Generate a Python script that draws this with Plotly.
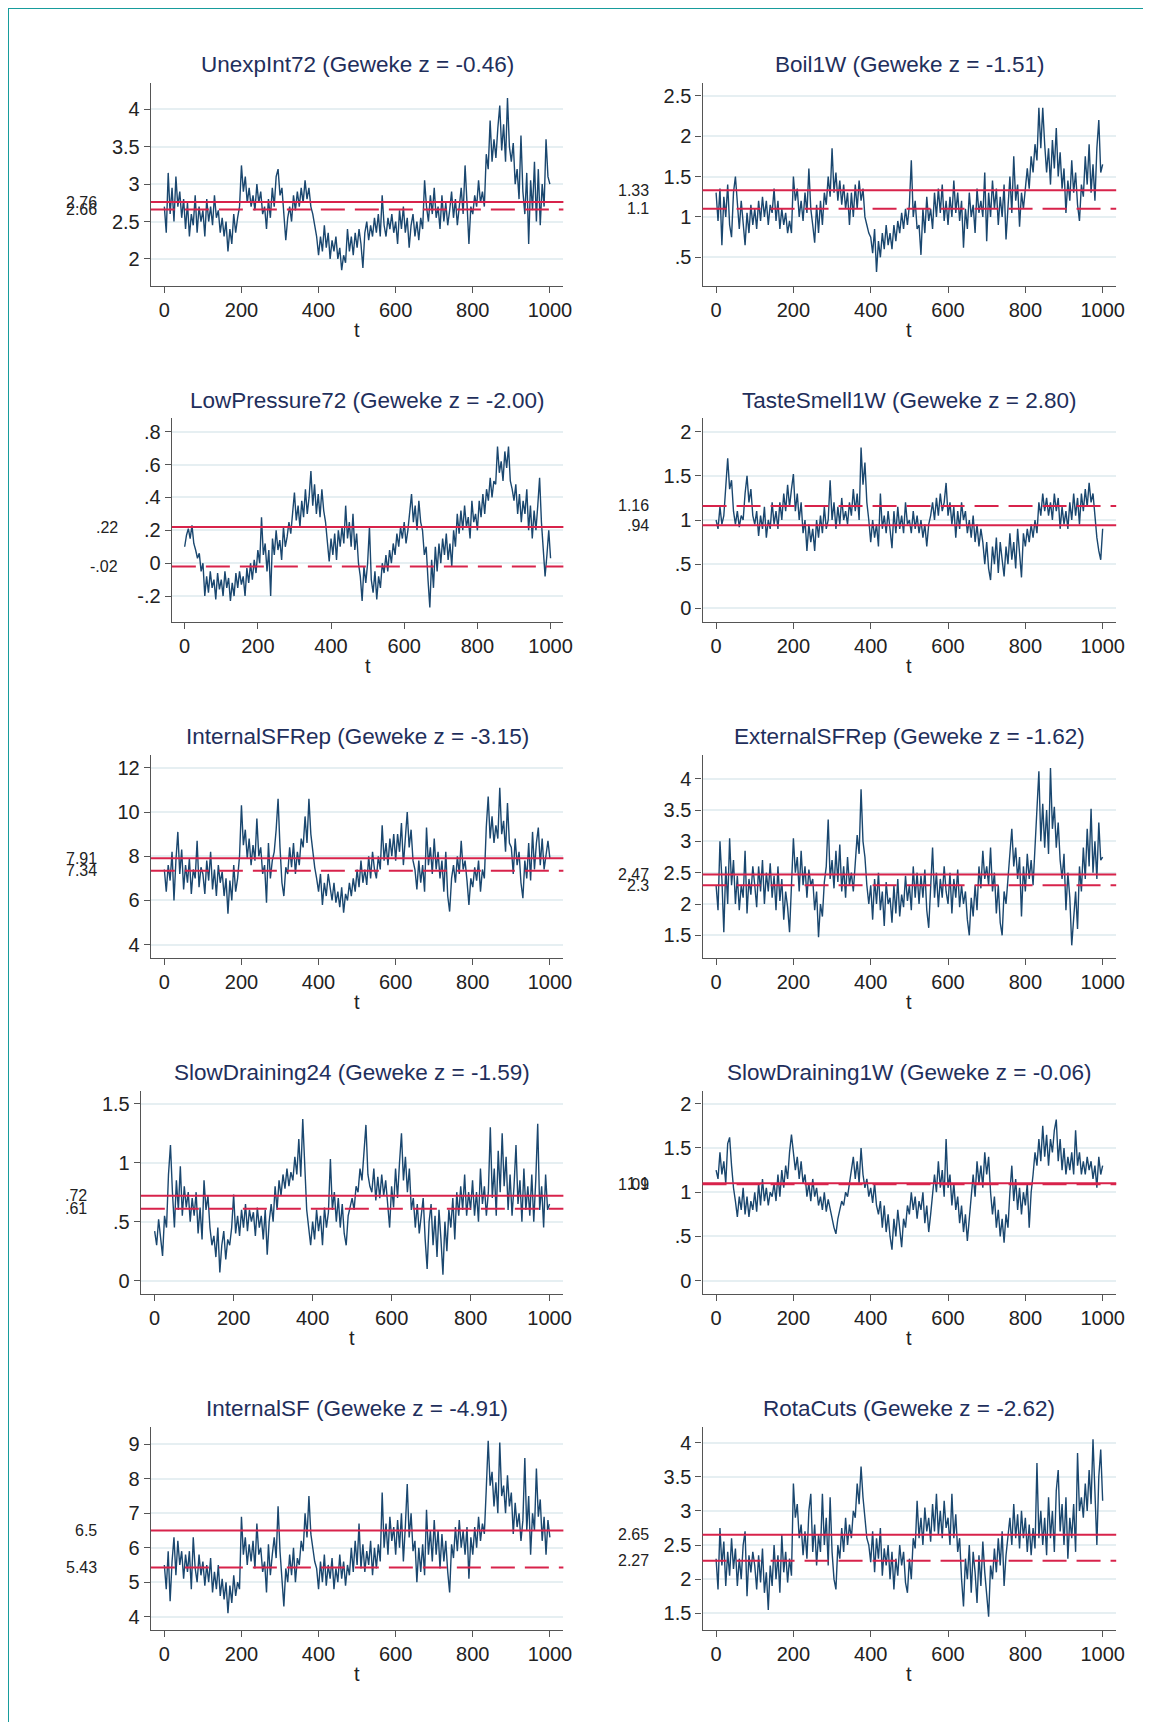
import plotly.graph_objects as go

# ---------------- data ----------------
iteration = list(range(0, 1001, 5))

names = ["UnexpInt72", "Boil1W", "LowPressure72", "TasteSmell1W", "InternalSFRep",
         "ExternalSFRep", "SlowDraining24", "SlowDraining1W", "InternalSF", "RotaCuts"]
geweke_z = ["-0.46", "-1.51", "-2.00", "2.80", "-3.15", "-1.62", "-1.59", "-0.06", "-4.91", "-2.62"]

solid_mean = [2.76, 1.33, 0.22, 0.94, 7.91, 2.47, 0.72, 1.10, 6.5, 2.65]
solid_label = ["2.76", "1.33", ".22", ".94", "7.91", "2.47", ".72", "1.1", "6.5", "2.65"]
dashed_mean = [2.66, 1.10, -0.02, 1.16, 7.34, 2.30, 0.61, 1.09, 5.43, 2.27]
dashed_label = ["2.66", "1.1", "-.02", "1.16", "7.34", "2.3", ".61", "1.09", "5.43", "2.27"]

y_ticks = [
    [2, 2.5, 3, 3.5, 4],
    [0.5, 1, 1.5, 2, 2.5],
    [-0.2, 0, 0.2, 0.4, 0.6, 0.8],
    [0, 0.5, 1, 1.5, 2],
    [4, 6, 8, 10, 12],
    [1.5, 2, 2.5, 3, 3.5, 4],
    [0, 0.5, 1, 1.5],
    [0, 0.5, 1, 1.5, 2],
    [4, 5, 6, 7, 8, 9],
    [1.5, 2, 2.5, 3, 3.5, 4],
]
x_ticks = [0, 200, 400, 600, 800, 1000]

unexpint72 = [
    2.7, 2.35, 3.15, 2.6, 2.95, 2.5, 3.1, 2.7, 2.9, 2.55,
    2.8, 2.4, 2.75, 2.3, 2.6, 2.45, 2.85, 2.35, 2.7, 2.5,
    2.65, 2.3, 2.8, 2.5, 2.7, 2.45, 2.85, 2.55, 2.65, 2.35,
    2.55, 2.3, 2.5, 2.1, 2.4, 2.2, 2.6, 2.35, 2.55, 2.7,
    3.25, 2.9, 3.1, 2.75, 2.95, 2.7, 2.85, 2.65, 3.0, 2.75,
    2.9, 2.6, 2.7, 2.4, 2.8, 2.55, 2.95, 2.7, 3.1, 3.2,
    2.85, 2.95, 2.6, 2.25, 2.55, 2.7, 2.5, 2.85, 2.65, 2.9,
    2.7, 2.95, 2.75, 3.05, 2.8, 2.95, 2.7, 2.6, 2.45, 2.3,
    2.05, 2.3, 2.1, 2.45, 2.15, 2.35, 2.0, 2.25, 2.1, 2.3,
    2.0, 2.15, 1.85, 2.05, 1.95, 2.4, 2.1, 2.3, 2.05, 2.35,
    2.15, 2.4, 2.2, 1.88, 2.35, 2.5, 2.25, 2.45, 2.3, 2.55,
    2.35, 2.6, 2.3, 2.85, 2.45, 2.3, 2.55, 2.4, 2.6, 2.35,
    2.5, 2.2, 2.65, 2.4, 2.7, 2.35, 2.55, 2.15, 2.45, 2.6,
    2.3, 2.5, 2.25, 2.55, 2.4, 3.05, 2.7, 2.5, 2.85, 2.6,
    2.95, 2.55, 2.7, 2.4, 2.85, 2.5, 2.75, 2.45, 2.65, 2.9,
    2.55, 2.8, 2.45, 2.7, 2.95, 2.6, 3.25, 2.75, 2.2, 2.7,
    2.6, 2.85, 2.7, 3.05, 2.75, 2.9, 2.7, 3.4, 3.2, 3.85,
    3.3, 3.6, 3.35, 3.75, 4.05, 3.45, 3.8, 3.3, 4.15, 3.5,
    3.3, 3.55, 3.0, 3.2, 2.8, 3.65, 2.9, 2.6, 3.15, 2.2,
    3.05, 2.65, 3.3, 2.5, 3.2, 2.45, 3.0, 2.7, 3.6, 3.1,
    3.0,
]

boil1w = [
    1.30, 0.95, 1.35, 0.65, 1.25, 1.0, 1.4, 0.9, 0.75, 1.3,
    1.5, 1.1, 0.85, 1.2, 0.95, 0.65, 1.05, 0.8, 1.15, 0.9,
    1.1, 0.85, 1.2, 0.95, 1.25, 1.0, 1.2, 0.9, 1.15, 1.05,
    1.35, 0.95, 1.2, 0.85, 1.1, 0.9, 1.05, 0.8, 0.95, 0.8,
    1.5, 1.2, 1.35, 1.0, 1.2, 0.95, 1.3, 1.05, 1.6, 1.1,
    0.9, 0.68, 1.15, 0.8, 1.2, 0.9, 1.3, 1.15, 1.5, 1.25,
    1.85, 1.3, 1.55, 1.2, 1.45, 1.15, 1.4, 1.1, 1.3, 0.9,
    1.3, 1.0, 1.4, 1.1, 1.45, 1.2, 1.35, 1.0, 0.9, 0.8,
    0.75, 0.55, 0.85, 0.32, 0.7, 0.5, 0.8, 0.6, 0.9, 0.65,
    0.8, 0.6, 0.9, 0.7, 0.95, 0.8, 1.05, 0.85, 1.1, 0.9,
    1.15, 1.7, 1.0, 1.2, 0.85, 0.9, 0.53, 1.1, 0.8, 1.25,
    0.95, 1.1, 0.85, 1.3, 1.0, 1.35, 1.05, 1.4, 0.95, 1.2,
    0.9, 1.25, 1.0, 1.45, 1.05, 1.3, 0.95, 1.2, 0.62, 1.1,
    0.85, 1.3, 1.0, 1.15, 0.8, 1.35, 1.05, 1.2, 1.0, 1.55,
    0.7, 1.3, 1.0, 1.45, 1.1, 1.35, 0.9, 1.25, 1.0, 1.4,
    0.72, 1.2, 1.5, 1.05, 1.75, 1.2, 1.4, 0.88, 1.3, 1.1,
    1.4, 1.6, 1.35, 1.75, 1.55, 1.9, 1.7, 2.35, 1.85, 2.35,
    1.9, 1.55, 1.85, 1.4, 1.95, 1.6, 2.1, 1.5, 1.8, 1.35,
    1.6, 1.05, 1.45, 1.2, 1.7, 1.3, 1.55, 1.15, 0.95, 1.4,
    1.25, 1.75, 1.4, 1.9, 1.3, 1.65, 1.2, 1.85, 2.2, 1.55,
    1.65,
]

lowpressure72 = [
    0.1, 0.17, 0.21, 0.15, 0.23, 0.12, 0.08, 0.03, 0.06, -0.05,
    0.0, -0.2, -0.08, -0.18, -0.05, -0.15, -0.1, -0.22, -0.06, -0.16,
    -0.1, -0.2, -0.05, -0.15, -0.09, -0.23, -0.12, -0.2, -0.06, -0.15,
    -0.05, -0.13, -0.08, -0.2, -0.03, -0.12, 0.0, -0.1, 0.02, -0.06,
    0.08, 0.0, 0.28, 0.05, 0.12, -0.05, 0.08, -0.2, 0.15, 0.05,
    0.2, 0.08, 0.14, 0.02, 0.22, 0.1, 0.16, 0.25, 0.18, 0.3,
    0.43, 0.26, 0.35, 0.22, 0.38, 0.28, 0.45, 0.3, 0.4, 0.56,
    0.35, 0.48, 0.3, 0.42, 0.28, 0.45, 0.32, 0.25, 0.1, 0.01,
    0.15, 0.05, 0.18, 0.02, 0.2, 0.1, 0.22, 0.12, 0.35, 0.15,
    0.25, 0.1, 0.3, 0.08, 0.18, 0.0, -0.08, -0.23, -0.02, -0.12,
    0.0, 0.22, -0.1, -0.18, -0.05, -0.22, -0.08, -0.15, 0.0, -0.06,
    0.05, -0.05, 0.08, 0.0, 0.12, 0.05, 0.18, 0.1, 0.22, 0.15,
    0.25, 0.12, 0.2, 0.3, 0.42, 0.25, 0.35, 0.2, 0.38, 0.25,
    0.2, 0.05, 0.1, -0.1, -0.27, 0.02, -0.15, 0.1, -0.05, 0.12,
    0.0, 0.15, 0.05, 0.18, 0.02, 0.12, -0.02, 0.2, 0.1, 0.3,
    0.18, 0.32, 0.2, 0.35, 0.22, 0.28, 0.15, 0.38, 0.25, 0.3,
    0.2, 0.38, 0.28, 0.42, 0.3, 0.45, 0.38, 0.52, 0.4, 0.5,
    0.48, 0.71, 0.55, 0.62, 0.5, 0.68, 0.58, 0.71, 0.5, 0.45,
    0.38, 0.48, 0.3, 0.42, 0.25, 0.38, 0.3, 0.45, 0.2, 0.35,
    0.15, 0.32, 0.2, 0.35, 0.52, 0.25, 0.05, -0.08, 0.05, 0.2,
    0.03,
]

tastesmell1w = [
    1.0, 0.9, 1.15, 0.95, 1.05, 1.4, 1.7, 1.35, 1.45, 1.1,
    0.95, 1.1, 0.92, 1.05, 1.0, 1.3, 1.5, 1.2, 1.35, 1.05,
    0.95, 1.1, 0.82, 1.05, 0.9, 1.15, 0.8, 1.0, 0.9, 1.2,
    0.95, 1.1, 0.9, 1.2, 1.0, 1.3, 1.1, 1.4, 1.15, 1.35,
    1.52, 1.1, 1.3, 1.0, 1.2, 0.85, 1.0, 0.65, 0.95, 0.75,
    0.9, 0.65, 1.0, 0.8, 1.05, 0.85, 1.15, 0.9, 1.0, 1.45,
    1.0, 1.2, 0.9, 1.15, 0.95, 1.25, 1.0, 1.1, 0.95, 1.2,
    1.05, 1.35, 1.1, 1.3, 1.0, 1.82, 1.4, 1.65, 1.2, 1.0,
    0.75, 1.0, 0.8, 0.95, 0.7, 1.3, 0.9, 1.05, 0.85, 1.1,
    0.9, 0.68, 1.1, 0.85, 1.15, 0.9, 1.05, 0.85, 1.2, 0.95,
    1.0, 0.85, 1.1, 0.9, 1.05, 0.85, 1.0, 0.8, 0.95, 0.7,
    0.95, 1.05, 1.2, 1.0, 1.25, 1.05, 1.3, 1.1, 1.2, 1.42,
    1.05, 1.2, 0.95, 1.15, 0.8, 1.1, 0.9, 1.2, 1.0, 1.1,
    0.85, 1.0, 0.8, 1.05, 0.75, 0.95, 0.7, 0.9, 0.75, 0.5,
    0.75, 0.45, 0.32, 0.7, 0.5, 0.8, 0.4, 0.75, 0.55, 0.36,
    0.7, 0.5, 0.85, 0.55, 0.75, 0.45, 0.9, 0.6, 0.35, 0.85,
    0.7, 0.9, 0.75, 0.95, 0.8, 1.0, 0.85, 1.2, 1.05, 1.3,
    1.1, 1.25, 1.05, 1.2, 1.0, 1.3, 1.1, 1.25, 0.9, 1.15,
    0.95, 1.1, 0.9, 1.2, 1.0, 1.3, 1.05, 1.25, 0.95, 1.3,
    1.1, 1.35, 1.15, 1.42, 1.2, 1.3, 1.05, 0.8, 0.65, 0.55,
    0.9,
]

internalsfrep = [
    7.4, 6.4, 7.6, 6.9, 8.2, 6.0, 7.8, 9.1, 7.2, 8.3,
    6.5, 7.6, 6.8, 7.9, 6.3, 7.4, 7.0, 8.7, 6.6, 7.5,
    7.2, 6.3, 7.8, 6.9, 8.2, 6.5, 7.4, 6.2, 7.6, 6.8,
    7.3, 6.2, 7.0, 5.4, 6.9, 6.0, 7.6, 6.4, 7.0, 8.0,
    10.3, 8.5, 9.2, 7.9, 8.8, 7.6, 8.5, 7.8, 9.7, 8.0,
    8.4, 7.2, 7.6, 5.9, 8.6, 7.0, 7.8, 8.2, 9.2, 10.6,
    8.4, 6.8, 6.2, 7.5, 7.2, 8.4, 7.5, 8.6, 7.2, 8.2,
    7.6, 8.8, 8.4, 9.8, 8.6, 10.6, 9.0, 8.2, 7.5, 7.0,
    6.4, 7.2, 5.8, 6.8, 6.2, 7.2, 6.5, 6.0, 6.8, 5.9,
    6.4, 5.7, 6.6, 5.45, 6.3, 6.0, 6.8, 6.2, 7.0, 6.4,
    7.4, 6.6, 7.8, 6.8, 7.4, 6.7, 8.0, 7.0, 8.2, 7.4,
    7.0, 8.0, 7.4, 9.4, 7.8, 8.6, 7.6, 8.8, 8.0, 9.0,
    7.8, 9.0, 8.2, 9.5, 7.6, 8.8, 10.0, 8.4, 9.2, 7.8,
    7.4, 6.5, 7.8, 6.8, 7.6, 6.4, 9.3, 7.6, 8.4, 7.2,
    8.8, 7.4, 8.2, 7.0, 7.8, 6.4, 8.2, 6.2, 5.5, 7.0,
    7.6, 6.8, 8.0, 7.2, 8.7, 7.4, 7.8, 6.9, 5.8, 7.0,
    6.6, 7.5, 6.9, 7.8, 6.4, 7.4, 7.0, 9.3, 10.7, 8.8,
    9.8, 8.6, 9.4, 8.8, 11.1, 9.0, 9.6, 8.2, 10.4, 8.6,
    8.4, 7.2, 8.8, 7.6, 8.2, 6.8, 6.1, 7.8, 7.0, 8.6,
    6.9, 9.1, 7.4, 8.6, 9.3, 7.6, 8.8, 7.4, 8.2, 8.7,
    7.9,
]

externalsfrep = [
    2.3, 1.9, 3.0, 2.4, 1.55, 2.6, 2.0, 3.05, 2.3, 2.7,
    2.0, 2.45, 1.9, 2.3, 2.1, 2.85, 1.85, 2.4, 2.15, 2.6,
    2.3, 1.95, 2.6, 2.2, 2.7, 2.0, 2.5, 2.2, 2.65, 2.1,
    2.45, 1.9, 2.6, 2.05, 2.4, 1.75, 2.2, 1.95, 1.55, 2.35,
    3.05, 2.5, 2.75, 2.2, 2.85, 2.3, 2.6, 2.1, 2.55, 2.3,
    2.4, 1.9, 2.2, 1.47, 2.0, 1.8, 2.35, 2.6, 3.35, 2.4,
    2.7, 2.25, 2.85, 2.35, 2.95, 2.2, 2.6, 2.1, 2.75, 2.3,
    2.5, 2.2, 2.7, 3.1, 2.8, 3.83, 3.0, 2.75, 2.3, 2.0,
    2.3, 1.75, 2.4, 2.0, 2.5, 1.9, 2.2, 1.65, 2.35, 2.0,
    2.1, 1.7, 2.3, 1.85, 2.4, 1.8, 2.15, 1.95, 2.45, 2.05,
    2.3, 1.9, 2.6, 2.1, 2.5, 2.0, 2.45, 2.1, 2.55, 1.9,
    1.62, 2.2, 2.9, 2.1, 2.5, 1.95, 2.4, 2.1, 2.6, 2.2,
    2.0, 2.5, 1.85, 2.4, 2.1, 2.55, 1.95, 2.3, 2.0, 2.2,
    1.75, 1.5, 2.1, 1.8, 2.3, 1.9, 2.6, 2.25, 2.85, 2.4,
    2.6, 2.3, 2.9, 2.2, 2.5, 1.85, 2.3, 1.7, 1.5, 2.2,
    2.0, 2.4, 2.8, 3.2, 2.6, 2.9, 2.4, 2.75, 1.8, 2.6,
    2.2, 2.8, 2.4, 2.7, 2.3, 2.9, 3.3, 4.12, 3.0, 3.6,
    2.9, 3.5, 2.8, 4.17, 3.2, 3.55, 2.9, 3.3, 2.7, 2.4,
    2.8, 1.9, 2.5, 2.1, 1.34, 1.8, 2.2, 1.6, 2.6, 2.2,
    2.9, 2.4, 3.2, 2.6, 3.52, 2.5, 3.0, 2.4, 3.3, 2.7,
    2.75,
]

slowdraining24 = [
    0.42, 0.3, 0.52, 0.35, 0.21, 0.55, 0.45, 0.9, 1.15, 0.75,
    0.45, 0.85, 0.6, 0.97, 0.55, 0.8, 0.62, 0.75, 0.5, 0.7,
    0.55, 0.75, 0.4, 0.62, 0.35, 0.85, 0.6, 0.72, 0.45, 0.3,
    0.38, 0.2, 0.45, 0.07, 0.3, 0.42, 0.18, 0.35, 0.3, 0.45,
    0.73, 0.4, 0.55, 0.38, 0.6, 0.45, 0.65, 0.42, 0.6, 0.5,
    0.58, 0.38, 0.62, 0.45, 0.55, 0.35, 0.6, 0.22, 0.5, 0.65,
    0.5, 0.8, 0.6, 0.85, 0.72, 0.9, 0.78, 0.95, 0.8, 0.92,
    0.85, 1.05, 0.9, 1.2, 0.88, 1.37, 0.95, 0.6, 0.45, 0.3,
    0.5, 0.35, 0.6, 0.42, 0.55, 0.3, 0.62, 0.45, 0.58, 1.03,
    0.6, 0.75, 0.5, 0.7, 0.45, 0.65, 0.4, 0.3, 0.55, 0.62,
    0.7, 0.6, 0.8, 0.75, 0.95, 0.85, 1.05, 1.32, 0.9, 0.8,
    0.75, 0.95, 0.68, 0.88, 0.7, 0.9, 0.72, 0.85, 0.65, 0.45,
    0.8, 0.62, 0.95, 0.7, 1.0, 1.25, 0.85, 1.05, 0.75, 0.95,
    0.6, 0.7, 0.45, 0.65, 0.4, 0.55, 0.7, 0.35, 0.1, 0.5,
    0.65, 0.3, 0.55, 0.2, 0.6, 0.35, 0.05, 0.5, 0.25, 0.6,
    0.45, 0.7, 0.35, 0.75, 0.55, 0.8, 0.6, 0.9, 0.55, 0.75,
    0.6, 0.85, 0.55, 0.75, 0.5, 0.95, 0.65, 0.8, 0.55, 0.75,
    1.3, 0.7, 0.95, 0.55, 1.1, 0.75, 1.25, 0.8, 1.05, 0.6,
    0.9, 0.55, 0.8, 1.15, 0.65, 0.85, 0.5, 0.95, 0.6, 0.8,
    0.55, 0.9, 0.5, 0.85, 1.33, 0.6, 0.8, 0.45, 0.9, 0.6,
    0.65,
]

slowdraining1w = [
    1.25, 1.15, 1.45, 1.2, 1.35, 1.1, 1.55, 1.62, 1.3, 1.05,
    0.9, 0.72, 0.95, 0.8, 1.05, 0.75, 0.95, 0.72, 0.9, 0.8,
    1.0, 0.78, 1.1, 0.85, 1.15, 0.9, 1.05, 0.85, 1.0, 0.95,
    1.1, 0.9, 1.2, 0.95, 1.25, 1.05, 1.3, 1.15, 1.45, 1.65,
    1.45, 1.25, 1.4, 1.15, 1.35, 1.1, 1.2, 0.95, 1.1, 0.9,
    1.15, 0.95, 1.05, 0.85, 0.95, 0.8, 1.0, 0.78, 0.92, 0.8,
    0.72, 0.6, 0.53, 0.7, 0.8, 0.9, 0.85, 1.0, 0.95, 1.1,
    1.2, 1.4, 1.15, 1.35, 1.1, 1.5, 1.2, 1.05, 1.15, 0.95,
    1.05, 0.88, 1.1, 0.85, 0.75, 0.9, 0.6, 0.85, 0.55, 0.75,
    0.5, 0.35, 0.7, 0.5, 0.8, 0.55, 0.38, 0.7, 0.6, 0.85,
    0.75, 1.0, 0.8, 0.95, 0.7, 0.9, 0.8, 1.0, 0.65, 0.85,
    0.55, 0.75, 0.95, 1.2, 1.0, 1.35, 1.05, 1.25, 0.95, 1.6,
    1.05, 1.2, 0.85, 1.1, 0.8, 0.95, 0.65, 0.85, 0.55, 0.75,
    0.45, 0.7, 0.9, 1.2, 0.95, 1.35, 1.1, 1.3, 1.05, 1.45,
    1.2, 1.4, 1.0, 0.75, 0.95, 0.6, 0.8, 0.5, 0.7, 0.43,
    0.75, 0.6, 1.0, 1.3, 0.9, 1.15, 0.8, 1.05, 0.75, 1.0,
    0.85, 1.1, 0.6, 1.0, 1.2, 1.45, 1.3, 1.6, 1.35, 1.75,
    1.4, 1.65, 1.3, 1.6, 1.45, 1.7, 1.82, 1.35, 1.6, 1.25,
    1.5, 1.2, 1.4, 1.25, 1.45, 1.2, 1.7, 1.3, 1.45, 1.2,
    1.35, 1.2, 1.4, 1.25, 1.35, 1.15, 1.3, 1.05, 1.4, 1.2,
    1.3,
]

internalsf = [
    5.5, 4.8, 5.9, 4.45, 5.6, 6.3, 5.2, 6.2, 5.5, 5.9,
    5.1, 5.8, 5.3, 5.9, 4.8, 6.3, 5.4, 5.0, 5.8, 5.2,
    5.6, 4.9, 5.5, 5.0, 5.7, 4.7, 5.3, 4.8, 5.5, 4.6,
    5.1, 4.5, 5.0, 4.1, 4.9, 4.4, 5.2, 4.6, 5.0, 4.8,
    6.9, 5.8, 6.3, 5.5, 6.1, 5.6, 6.2, 5.4, 6.7, 5.8,
    6.0, 5.3, 5.6, 4.7, 6.1, 5.2, 5.8, 6.3, 5.7, 7.2,
    5.9, 5.2, 4.3, 5.4, 5.0, 5.8, 5.2, 6.0, 5.0, 5.7,
    5.5, 6.2, 5.9, 7.0, 6.3, 7.5, 6.4, 6.0, 5.6, 5.4,
    4.8, 5.6, 5.0, 5.8, 4.9, 5.5, 5.1, 5.7, 4.8, 5.4,
    5.0, 5.8, 5.1, 5.6, 4.9, 5.5, 5.2, 6.0, 5.3, 6.2,
    5.5, 6.7, 5.4, 6.1, 5.3, 5.9, 5.5, 6.2, 5.2, 6.0,
    5.4, 6.1, 5.6, 7.6, 6.0, 6.7, 5.8, 6.9, 6.2, 6.6,
    5.8, 6.8, 6.0, 7.0, 5.6, 6.6, 7.85, 6.3, 7.0, 5.9,
    6.2, 5.0, 6.0, 5.3, 6.1, 5.2, 7.1, 5.8, 6.5, 5.6,
    6.8, 5.8, 6.5, 5.4, 6.4, 5.6, 6.2, 5.3, 4.7, 6.1,
    5.7, 6.6, 5.9, 6.8, 6.0, 6.5, 5.8, 6.6, 5.1, 6.3,
    5.8, 6.6, 6.0, 6.9, 6.2, 6.7, 6.4, 7.7, 9.1, 7.8,
    8.2, 7.2, 7.9, 7.0, 9.05, 7.5, 7.8, 7.0, 8.1, 7.2,
    7.6, 6.4, 7.3, 6.6, 7.0, 6.2, 6.8, 8.6, 6.5, 7.5,
    5.8, 7.0, 6.5, 8.3, 6.9, 7.4, 6.2, 6.9, 5.8, 6.8,
    6.3,
]

rotacuts = [
    2.3, 1.85, 2.75, 2.2, 2.55, 1.9, 2.4, 2.05, 2.6, 2.15,
    2.45, 1.9, 2.3, 2.0, 2.5, 2.7, 1.75, 2.35, 2.1, 2.4,
    2.2, 1.85, 2.35, 1.95, 2.45, 1.8, 2.1, 1.55, 2.2, 1.9,
    2.5, 2.0, 2.35, 1.8, 2.65, 2.1, 2.4, 1.95, 2.3, 2.05,
    3.4, 2.9, 3.1, 2.6, 2.8, 2.35, 2.7, 2.3, 3.0, 3.25,
    2.4, 2.8, 2.2, 2.65, 2.4, 3.25, 2.5, 2.9, 2.2, 3.2,
    2.4, 2.0, 1.85, 2.5, 2.3, 2.75, 2.4, 2.9, 2.5, 2.8,
    2.6, 3.0, 2.9, 3.4, 3.1, 3.65, 3.2, 2.9, 2.6, 2.5,
    2.25, 2.7, 2.1, 2.6, 2.3, 2.75, 2.05, 2.45, 2.2, 2.5,
    2.0, 2.4, 1.85, 2.3, 2.05, 2.5, 2.2, 2.4, 1.95, 1.8,
    2.3, 2.0, 2.6, 2.45, 3.15, 2.6, 2.9, 2.5, 3.05, 2.7,
    2.9, 2.55, 3.1, 2.7, 3.25, 2.65, 3.0, 2.6, 3.15, 2.75,
    2.9, 2.5, 3.25, 2.6, 2.95, 2.4, 2.6, 2.0, 1.6, 2.3,
    2.0, 2.5, 1.8, 2.4, 2.1, 1.65, 2.35, 1.9, 2.55, 2.1,
    1.8, 1.45, 2.2, 2.0, 2.45, 2.1, 2.6, 2.2, 2.7, 1.9,
    2.35, 2.65, 2.9, 2.5, 3.1, 2.6, 2.95, 2.45, 3.0, 2.6,
    2.9, 2.4, 2.8, 2.35, 2.75, 2.45, 3.7, 2.6, 3.0, 2.5,
    2.9, 2.35, 3.2, 2.6, 3.0, 2.4, 3.3, 3.6, 2.7, 3.1,
    2.5, 3.2, 2.3, 2.9, 2.6, 3.1, 2.4, 3.85, 3.0, 3.2,
    2.9, 3.4, 3.0, 3.6, 3.1, 4.05, 3.3, 2.5, 3.5, 3.9,
    3.15,
]

series = [unexpint72, boil1w, lowpressure72, tastesmell1w, internalsfrep,
          externalsfrep, slowdraining24, slowdraining1w, internalsf, rotacuts]

# ---------------- layout settings ----------------
# Page is 1160x1730 with the browser's default 8px body margin,
# so the figure is 1144x1714 and page pixel p sits at figure pixel p - 8.
PAGE_OFF = 8
W, H = 1144, 1714
X_STRETCH = 1.0085   # small horizontal correction observed on the rendered page

y_ranges = [
    [1.639, 4.355], [0.145, 2.661], [-0.356, 0.8815], [-0.152, 2.152],
    [3.40, 12.59], [1.138, 4.383], [-0.113, 1.61], [-0.150, 2.147],
    [3.614, 9.51], [1.255, 4.234],
]
x_range = [-35, 1035]
# page-pixel positions of the plot areas (measured on the reference)
left_x0 = [150.7, 171.7, 150.7, 140.7, 150.7]
left_x1 = 563.0
right_x0, right_x1 = 702.1, 1115.5
rows_px = [(82.7, 286.0), (418.3, 621.7), (754.7, 958.0), (1090.7, 1294.0), (1426.7, 1630.0)]

FONT = "Liberation Sans, Arial, Helvetica, sans-serif"
TRACE_COLOR = "#1a476f"
RED = "#d8234b"
TITLE_COLOR = "#1f2f5c"
TEXT_COLOR = "#222222"
AXIS_COLOR = "#555555"
GRID_COLOR = "#e6eff2"
FRAME_COLOR = "#179c9c"


def px_x(p):
    return (p * X_STRETCH - PAGE_OFF) / W


def px_y(p):
    return 1 - (p - PAGE_OFF) / H


def fmt(v):
    s = "%g" % v
    if s.startswith("0."):
        s = s[1:]
    elif s.startswith("-0."):
        s = "-" + s[2:]
    return s


fig = go.Figure()
layout = dict(
    width=W, height=H, autosize=False,
    margin=dict(l=0, r=0, t=0, b=0, pad=0),
    paper_bgcolor="white", plot_bgcolor="white",
    showlegend=False,
    font=dict(family=FONT, color=TEXT_COLOR),
)
annotations = []
shapes = []

for i in range(10):
    row, col = divmod(i, 2)
    sfx = "" if i == 0 else str(i + 1)
    top, bot = rows_px[row]
    if col == 0:
        x0, x1 = left_x0[row], left_x1
    else:
        x0, x1 = right_x0, right_x1
    vals = series[i]
    fig.add_trace(go.Scatter(
        x=iteration[:len(vals)], y=vals, mode="lines",
        line=dict(color=TRACE_COLOR, width=1.4),
        xaxis="x" + sfx, yaxis="y" + sfx, hoverinfo="skip",
    ))
    layout["xaxis" + sfx] = dict(
        domain=[px_x(x0), px_x(x1)], anchor="y" + sfx, range=x_range,
        tickmode="array", tickvals=x_ticks, ticktext=[str(v) for v in x_ticks],
        ticks="outside", ticklen=6, tickwidth=1.3, tickcolor=AXIS_COLOR,
        showline=True, linecolor=AXIS_COLOR, linewidth=1.3,
        showgrid=False, zeroline=False,
        tickfont=dict(size=20, color=TEXT_COLOR, family=FONT),
    )
    layout["yaxis" + sfx] = dict(
        domain=[px_y(bot), px_y(top)], anchor="x" + sfx, range=y_ranges[i],
        tickmode="array", tickvals=y_ticks[i], ticktext=[fmt(v) for v in y_ticks[i]],
        ticks="outside", ticklen=6, tickwidth=1.3, tickcolor=AXIS_COLOR,
        showline=True, linecolor=AXIS_COLOR, linewidth=1.3,
        showgrid=True, gridcolor=GRID_COLOR, gridwidth=1.5, zeroline=False,
        tickfont=dict(size=20, color=TEXT_COLOR, family=FONT),
    )
    xd, yd = "x" + sfx + " domain", "y" + sfx + " domain"
    annotations.append(dict(
        text=f"{names[i]} (Geweke z = {geweke_z[i]})", xref=xd, yref=yd,
        x=0.5, y=1, yshift=18, xanchor="center", yanchor="middle", showarrow=False,
        font=dict(size=22.5, color=TITLE_COLOR, family=FONT),
    ))
    annotations.append(dict(
        text="t", xref=xd, yref=yd, x=0.5, y=0, yshift=-44,
        xanchor="center", yanchor="middle", showarrow=False,
        font=dict(size=20, color=TEXT_COLOR, family=FONT),
    ))
    for val, lab in ((solid_mean[i], solid_label[i]), (dashed_mean[i], dashed_label[i])):
        annotations.append(dict(
            text=lab, xref=xd, yref="y" + sfx, x=0, y=val, xshift=-52,
            xanchor="right", yanchor="middle", showarrow=False,
            font=dict(size=16, color=TEXT_COLOR, family=FONT),
        ))
    shapes.append(dict(type="line", xref=xd, yref="y" + sfx, x0=0, x1=1,
                       y0=solid_mean[i], y1=solid_mean[i], layer="above",
                       line=dict(color=RED, width=2)))
    shapes.append(dict(type="line", xref=xd, yref="y" + sfx, x0=0, x1=1,
                       y0=dashed_mean[i], y1=dashed_mean[i], layer="above",
                       line=dict(color=RED, width=2, dash="24px,10px")))

# frame of the original figure (top and left edges visible)
shapes.append(dict(type="line", xref="paper", yref="paper", x0=0.0, x1=1.0,
                   y0=1.0, y1=1.0, line=dict(color=FRAME_COLOR, width=2)))
shapes.append(dict(type="line", xref="paper", yref="paper", x0=0.0, x1=0.0,
                   y0=0.0, y1=1.0, line=dict(color=FRAME_COLOR, width=2)))

layout["annotations"] = annotations
layout["shapes"] = shapes
fig.update_layout(**layout)

fig.write_html("out.html", config={"displayModeBar": False})
